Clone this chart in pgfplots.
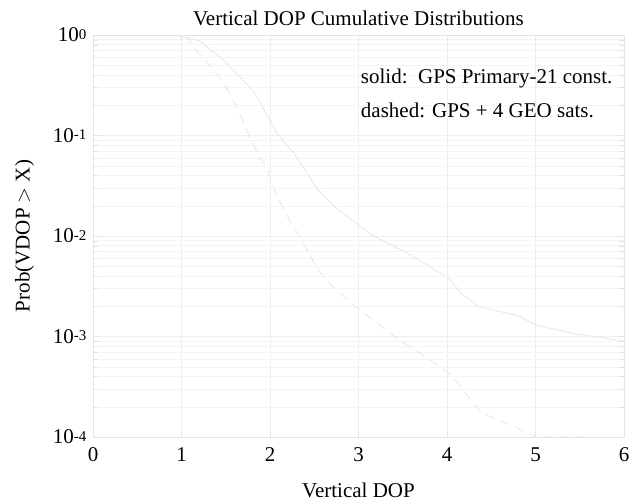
\documentclass[border=0pt]{standalone}
\usepackage{pgfplots}
\pgfplotsset{compat=1.18}
\usepackage{fontspec}
\setmainfont{Liberation Serif}
\definecolor{curve}{HTML}{E6E6E6}
\definecolor{gridc}{HTML}{EEEEEE}
\definecolor{minorc}{HTML}{F4F4F4}
\definecolor{boxc}{HTML}{E4E4E4}
\newcommand{\ex}[1]{10\raisebox{0.25ex}{\fontsize{15bp}{15bp}\selectfont #1}}
\begin{document}
\begin{tikzpicture}
\begin{axis}[
  scale only axis,
  width=531bp, height=402bp,
  xmin=0, xmax=6,
  ymode=log, ymin=1e-4, ymax=1,
  xtick={0,1,2,3,4,5,6},
  ytick={1e-4,1e-3,1e-2,1e-1,1},
  minor ytick={2e-4,3e-4,4e-4,5e-4,6e-4,7e-4,8e-4,9e-4,
               2e-3,3e-3,4e-3,5e-3,6e-3,7e-3,8e-3,9e-3,
               2e-2,3e-2,4e-2,5e-2,6e-2,7e-2,8e-2,9e-2,
               2e-1,3e-1,4e-1,5e-1,6e-1,7e-1,8e-1,9e-1},
  yticklabels={\ex{-4},\ex{-3},\ex{-2},\ex{-1},\ex{0}},
  log basis y=10,
  grid=both,
  major grid style={draw=gridc, line width=0.6pt},
  minor grid style={draw=minorc, line width=0.5pt},
  axis line style={draw=boxc},
  tick style={draw=boxc},
  minor tick length=5bp,
  major tick length=6bp,
  tick align=inside,
  xticklabel style={font=\fontsize{21bp}{21bp}\selectfont, yshift=-7bp},
  yticklabel style={font=\fontsize{21bp}{21bp}\selectfont, xshift=-3bp},
  /pgf/number format/assume math mode=true,
  title={Vertical DOP Cumulative Distributions},
  title style={font=\fontsize{21bp}{21bp}\selectfont, yshift=0bp},
  xlabel={Vertical DOP},
  xlabel style={font=\fontsize{21bp}{21bp}\selectfont, yshift=-14bp},
  ylabel={Prob(VDOP $>$ X)},
  ylabel style={font=\fontsize{21bp}{21bp}\selectfont, yshift=12bp},
]
\addplot[curve, line width=0.8pt] coordinates {
(0,1) (0.92,1) (1.2,0.88) (1.5,0.54) (1.83,0.263) (2.08,0.105) (2.27,0.0667)
(2.54,0.0288) (2.73,0.0196) (3.145,0.0103) (3.56,0.0067) (4.02,0.0038)
(4.16,0.0027) (4.35,0.0020) (4.81,0.0016) (5.0,0.00131) (5.41,0.00108) (6.0,0.00090)
};
\addplot[curve, line width=0.8pt, dash pattern=on 10pt off 6pt] coordinates {
(1.05,1) (1.16,0.71) (1.34,0.48) (1.5,0.306) (1.64,0.18) (1.80,0.084) (1.97,0.0456)
(2.08,0.0247) (2.24,0.0134) (2.38,0.0085) (2.54,0.0046) (2.73,0.0030) (2.96,0.0020)
(3.24,0.0013) (3.45,0.00093) (3.70,0.00068) (4.07,0.0004) (4.21,0.00027)
(4.39,0.000173) (4.72,0.000132) (4.95,0.000105) (5.0,0.0001) (5.6,0.0001)
};
\node[anchor=west, font=\fontsize{21bp}{21bp}\selectfont] at (rel axis cs:0.498,0.893) {solid:\ \ GPS Primary-21 const.};
\node[anchor=west, font=\fontsize{21bp}{21bp}\selectfont] at (rel axis cs:0.498,0.813) {dashed: GPS + 4 GEO sats.};
\end{axis}
\path[use as bounding box] ([xshift=-93bp,yshift=-65bp]current axis.south west) rectangle ([xshift=15bp,yshift=35bp]current axis.north east);
\end{tikzpicture}
\end{document}
